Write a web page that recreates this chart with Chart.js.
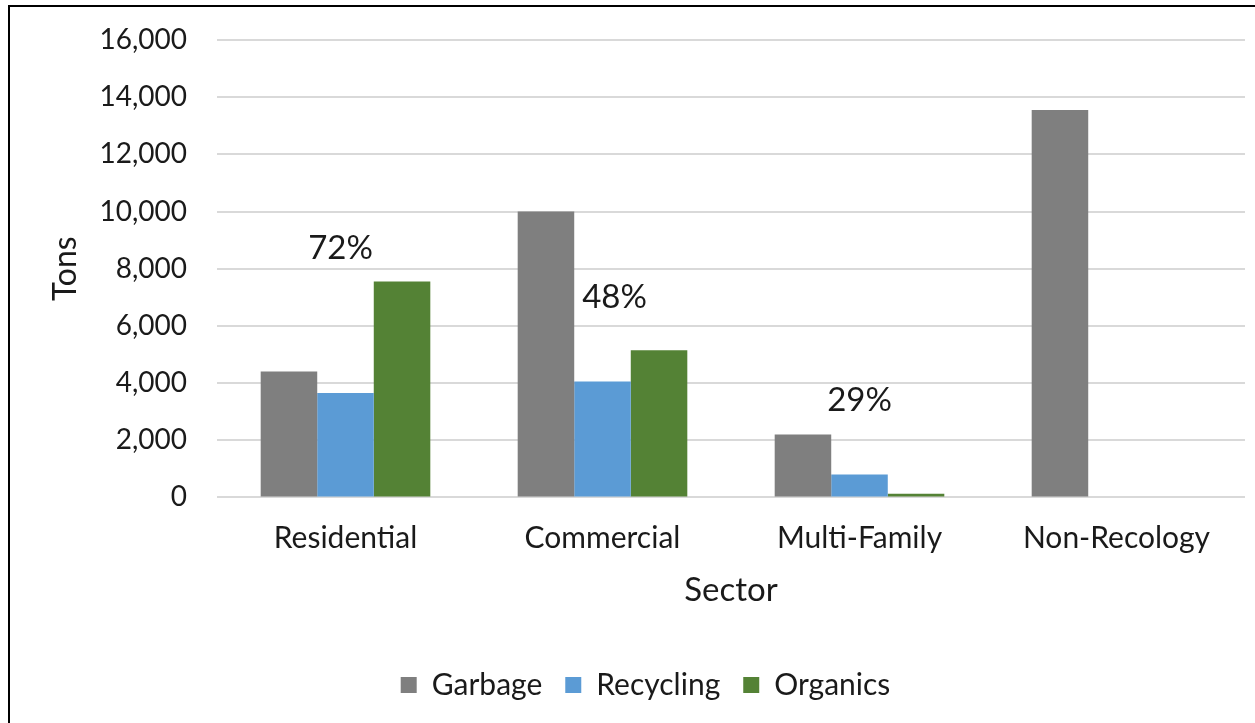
<!DOCTYPE html>
<html>
<head>
<meta charset="utf-8">
<script src="https://cdn.jsdelivr.net/npm/chart.js@4.4.1/dist/chart.umd.min.js"></script>
<style>
  html, body { margin: 0; padding: 0; background: #fff; }
  #wrap { position: relative; width: 1255px; height: 723px; overflow: hidden; }
  #chart { display: block; }
  #frame {
    position: absolute; left: 8px; top: 5px; width: 1300px; height: 800px;
    border-top: 2px solid #000; border-left: 2px solid #000; pointer-events: none;
  }
</style>
</head>
<body>
<div id="wrap">
  <canvas id="chart" width="1255" height="723"></canvas>
  <div id="frame"></div>
</div>
<script>
const sectors = ["Residential", "Commercial", "Multi-Family", "Non-Recology"];
const garbage = [4400, 10000, 2200, 13550];
const recycling = [3650, 4050, 800, 0];
const organics = [7550, 5150, 130, 0];
const diversion = ["72%", "48%", "29%", ""];
const yTicks = [0, 2000, 4000, 6000, 8000, 10000, 12000, 14000, 16000];

const FONT = "Lato, 'Open Sans', sans-serif";
const TEXT = "#1a1a1a";

// diversion rate written over each sector group
const rateLabels = {
  id: "rateLabels",
  afterDatasetsDraw(chart) {
    const { ctx, scales } = chart;
    const anchors = [8700, 7000, 3400];
    const shift = [-5, 12, 0];
    ctx.save();
    ctx.font = "33px " + FONT;
    ctx.fillStyle = TEXT;
    ctx.textAlign = "center";
    ctx.textBaseline = "middle";
    diversion.forEach((txt, i) => {
      if (!txt) return;
      const x = scales.x.getPixelForValue(i) + shift[i];
      const y = scales.y.getPixelForValue(anchors[i]);
      ctx.fillText(txt, x, y);
    });
    ctx.restore();
  }
};

new Chart(document.getElementById("chart"), {
  type: "bar",
  plugins: [rateLabels],
  data: {
    labels: sectors,
    datasets: [
      { label: "Garbage", data: garbage, backgroundColor: "#7f7f7f" },
      { label: "Recycling", data: recycling, backgroundColor: "#5b9bd5" },
      { label: "Organics", data: organics, backgroundColor: "#548235" },
    ],
  },
  options: {
    responsive: false,
    animation: false,
    datasets: { bar: { categoryPercentage: 0.66, barPercentage: 1.0, borderWidth: 0 } },
    layout: { padding: { left: 46, right: 10, top: 40, bottom: 13 } },
    plugins: {
      tooltip: { enabled: false },
      legend: {
        position: "bottom",
        labels: {
          font: { family: FONT, size: 30 },
          color: TEXT,
          boxWidth: 16,
          boxHeight: 16,
          padding: 23,
        },
      },
    },
    scales: {
      x: {
        grid: { display: false },
        border: { display: false },
        ticks: { font: { family: FONT, size: 30 }, color: TEXT, padding: 15 },
        title: {
          display: true,
          text: "Sector",
          font: { family: FONT, size: 33 },
          color: TEXT,
          padding: { top: -1, bottom: 37 },
        },
      },
      y: {
        min: 0,
        max: 16000,
        afterBuildTicks: (axis) => { axis.ticks = yTicks.map((v) => ({ value: v })); },
        afterFit: (axis) => {
          axis.width = 171;
          axis.paddingTop = 0;
          axis.paddingBottom = 0;
        },
        grid: { color: "#d9d9d9", lineWidth: 2, drawTicks: false },
        border: { display: false },
        ticks: {
          font: { family: FONT, size: 28 },
          color: TEXT,
          padding: 30,
          callback: (v) => v.toLocaleString("en-US"),
        },
        title: {
          display: true,
          text: "Tons",
          font: { family: FONT, size: 32 },
          color: TEXT,
          padding: { top: 0, bottom: 0 },
        },
      },
    },
  },
});
</script>
</body>
</html>
